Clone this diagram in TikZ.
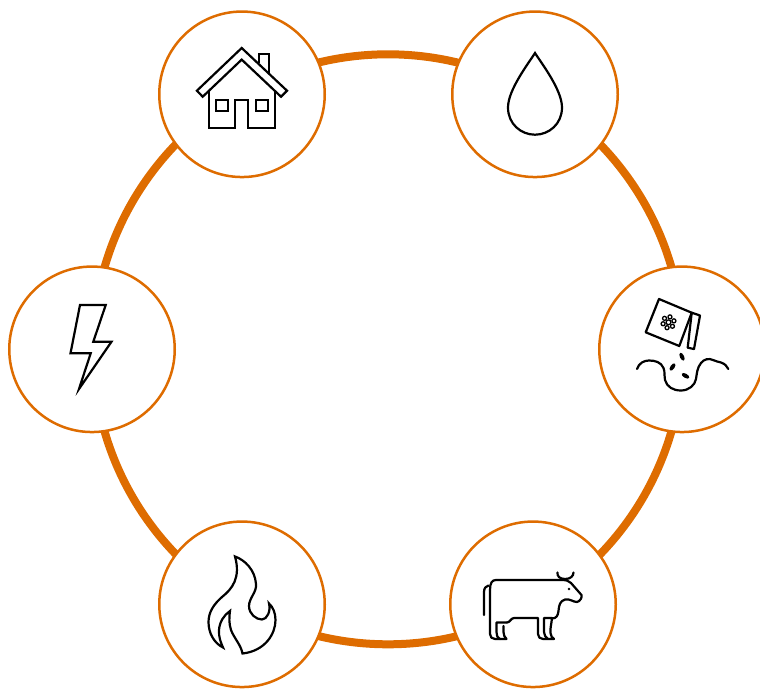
\documentclass[tikz,border=0pt]{standalone}
\definecolor{ringc}{HTML}{DE6C00}
\tikzset{
  hub/.style={circle,draw=ringc,line width=2.5pt,fill=white,minimum size=165.5pt,inner sep=0pt,outer sep=0pt},
  ringline/.style={draw=ringc,line width=8pt},
  icon/.style={draw=black,line width=2.2pt,line join=miter,fill=none},
  softicon/.style={draw=black,line width=2.2pt,line cap=round,line join=round,fill=none},
  seedgrain/.style={fill=black,draw=none}
}
\begin{document}
\begin{tikzpicture}[x=1pt,y=-1pt]
\useasboundingbox (0,0) rectangle (760,688);
\coordinate (centre) at (388,349.3);
\draw[ringline] (centre) circle[radius=295pt];
\node[hub] (house) at (242,94.3) {};
\node[hub] (water) at (535,94.3) {};
\node[hub] (seed) at (682,349.3) {};
\node[hub] (cow) at (533,604.3) {};
\node[hub] (fire) at (242,604.3) {};
\node[hub] (power) at (92,349.3) {};
% house
\draw[icon] (241.7,48) -- (287,90.7) -- (281,96.7) -- (241.7,59.6) -- (202.7,96.7) -- (196.9,90.7) -- cycle;
\draw[icon] (259.3,63) -- (259.3,53.8) -- (269.3,53.8) -- (269.3,72.5);
\draw[icon] (209.3,90) -- (209.3,127.7) -- (235,127.7) -- (235,100) -- (248.3,100) -- (248.3,127.7) -- (275,127.7) -- (275,91);
\draw[icon] (216,99.6) rectangle (227.7,110.7);
\draw[icon] (256,99.6) rectangle (267.7,110.7);
% drop
\draw[icon] (535,53) .. controls (528,64) and (508,90) .. (508,107.5)
  .. controls (508,124) and (521,134.7) .. (535,134.7)
  .. controls (549,134.7) and (562,124) .. (562,107.5)
  .. controls (562,90) and (542,64) .. cycle;
% seed packet
\draw[softicon] (659,299) -- (691.7,312.7) -- (679.3,346) -- (645.7,332.3) -- cycle;
\draw[softicon] (691.7,312.7) -- (700,315.5) -- (694,349) -- (687.7,347.7) -- (691.7,312.7);
\draw[line width=1.3pt] (668.5,322.3) circle[radius=2.4pt];
\foreach \a in {0,60,...,300}
  \draw[line width=1.3pt] (668.5,322.3) ++(\a+15:5.6pt) circle[radius=2pt];
\draw[softicon] (637,369) .. controls (639,363) and (644,360.5) .. (649,360.5)
  .. controls (655,360.5) and (661,362) .. (663.5,368)
  .. controls (665.5,373) and (663.5,376) .. (665,380)
  .. controls (667,387) and (673,390.5) .. (681,390.5)
  .. controls (689,390.5) and (695,385) .. (696,379)
  .. controls (697,373) and (697,368) .. (701,363)
  .. controls (704,359) and (709,358) .. (713,360)
  .. controls (716,361.5) and (718,361.5) .. (721,362.5)
  .. controls (725,364) and (727,366) .. (728.3,369);
\fill[seedgrain,rotate around={-65:(682,356.7)}] (682,356.7) ellipse[x radius=4.2pt,y radius=2.1pt];
\fill[seedgrain,rotate around={55:(672.5,367)}] (672.5,367) ellipse[x radius=4.2pt,y radius=2.1pt];
\fill[seedgrain,rotate around={-30:(685.5,375.8)}] (685.5,375.8) ellipse[x radius=4.2pt,y radius=2.1pt];
% cow
\draw[softicon] (484,615) -- (484,592) .. controls (484,588) and (486,586) .. (488.5,585.5);
\draw[softicon] (490,590) -- (490,634) .. controls (490,637) and (492,639) .. (495,639) -- (500,639)
  .. controls (497,637) and (496.5,635) .. (496.5,632) -- (496.5,622.5) -- (507,622.5);
\draw[softicon] (503.5,626) -- (503.5,632) .. controls (503.5,635) and (504.5,637) .. (506.5,639) -- (500,639);
\draw[softicon] (490,590) .. controls (490,583) and (492,580) .. (496,580) -- (561,580)
  .. controls (566,580) and (569,580.5) .. (571,583) -- (581.5,595)
  .. controls (582.5,597) and (580,601.5) .. (577,602)
  .. controls (573,602) and (570,598.5) .. (565,599.5)
  .. controls (560,601) and (559,605) .. (558.5,611)
  .. controls (558,616) and (556,618.5) .. (552,618.5);
\draw[softicon] (507,622.5) .. controls (510,622.5) and (511,618) .. (514,618) -- (538,618) -- (538,634)
  .. controls (538,637) and (540,639) .. (543,639) -- (548,639)
  .. controls (545.5,637) and (544,635) .. (544,632) -- (544,618) -- (552,618)
  .. controls (551.5,624) and (550,628) .. (550.5,633) .. controls (551,636) and (552,638) .. (554,639) -- (548,639);
\draw[softicon] (557.5,572.5) .. controls (557,576) and (559.5,579) .. (565,579) .. controls (570.5,579) and (573.5,576) .. (573.5,572.5);
\fill (569,589) circle[radius=1.3pt];
% flame
\draw[icon] (235,556.5) .. controls (245,560) and (255,570) .. (256,584)
  .. controls (257,592) and (249,598) .. (249,606)
  .. controls (249,614) and (256,619.5) .. (262,619.5)
  .. controls (267,619.5) and (271,611) .. (269,603.5)
  .. controls (273,607) and (275.5,613) .. (275.5,620)
  .. controls (275.5,634) and (265,651) .. (242.5,653.5)
  .. controls (241,645) and (234,638) .. (231,630)
  .. controls (229,624) and (229,617) .. (230,611)
  .. controls (224,615) and (219.5,622) .. (219,630)
  .. controls (218.5,637) and (221,643) .. (223,647.5)
  .. controls (214,643) and (208.5,633) .. (208.5,622)
  .. controls (208.5,612) and (214,604) .. (222,597)
  .. controls (232,589) and (241,578) .. cycle;
% bolt
\draw[icon] (80,305) -- (105.7,305) -- (93.3,341.7) -- (111.5,341.7) -- (79,389) -- (90.7,353.3) -- (70.5,353.3) -- cycle;
\end{tikzpicture}
\end{document}
